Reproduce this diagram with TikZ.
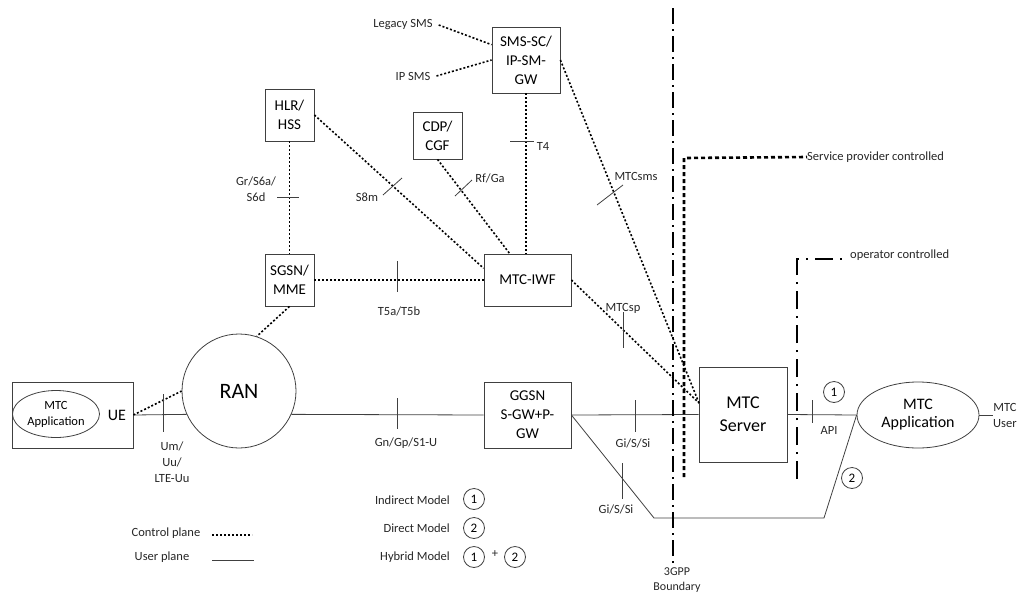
\documentclass[tikz,border=0pt]{standalone}
\usepackage{fontspec}
\setmainfont{Carlito}
\usetikzlibrary{shapes.geometric}
\tikzset{
  box/.style={draw=black!75,line width=0.8pt,inner sep=0pt,align=center,font=\fontsize{15}{19}\selectfont},
  lbl/.style={inner sep=0pt,align=center,text=black!85,font=\fontsize{12.5}{16}\selectfont},
  cp/.style={line width=1.6pt,dash pattern=on 2pt off 2pt},
  up/.style={draw=black!75,line width=0.8pt},
  bnd/.style={line width=2pt,dash pattern=on 16pt off 5pt on 2pt off 5pt},
  spc/.style={line width=2.6pt,dash pattern=on 4pt off 3pt},
  opc/.style={line width=2.8pt,dash pattern=on 18pt off 7pt on 2pt off 7pt},
  num/.style={circle,draw=black!75,line width=0.8pt,minimum size=21pt,inner sep=0pt,font=\fontsize{13}{13}\selectfont}
}
\begin{document}
\begin{tikzpicture}[x=1pt,y=-1pt]
    \useasboundingbox (0,0) rectangle (1021,595);
    \node[box,minimum width=121pt,minimum height=66pt] (ue) at (72.5,415) {};
    \node[box,ellipse,minimum width=87pt,minimum height=47pt,font=\fontsize{12.5}{16}\selectfont] (uapp) at (56,414) {MTC\\Application};
    \node[font=\fontsize{16}{16}\selectfont] (uetxt) at (117,415) {UE};
    \node[box,circle,minimum size=114pt,font=\fontsize{22}{22}\selectfont] (ran) at (239,391) {RAN};
    \node[box,minimum width=49pt,minimum height=52pt] (hlr) at (289.5,115) {HLR/\\HSS};
    \node[box,minimum width=49pt,minimum height=52pt] (sgsn) at (289.5,280) {SGSN/\\MME};
    \node[box,minimum width=49pt,minimum height=47pt] (cdp) at (437.5,135.5) {CDP/\\CGF};
    \node[box,minimum width=68pt,minimum height=66pt] (sms) at (526,60) {SMS-SC/\\IP-SM-\\GW};
    \node[box,minimum width=87pt,minimum height=52pt] (iwf) at (527.5,280) {MTC-IWF};
    \node[box,minimum width=87pt,minimum height=66pt] (ggsn) at (527.5,415) {GGSN\\S-GW+P-\\GW};
    \node[box,minimum width=88pt,minimum height=95pt,font=\fontsize{18}{23}\selectfont] (srv) at (743,414.5) {MTC\\Server};
    \node[box,ellipse,minimum width=122pt,minimum height=66pt,font=\fontsize{16}{18}\selectfont] (app) at (918,415) {MTC\\Application};
    \node[lbl,anchor=west] (usr) at (993,415) {MTC\\User};
    \node[lbl,inner sep=6pt] (legacy) at (403,25) {Legacy SMS};
    \node[lbl,inner sep=6pt] (ipsms) at (413,76) {IP SMS};
    \coordinate (srvin) at (699,403);
    \coordinate (d1) at (654,518);
    \coordinate (d2) at (824,518);
    % user plane
    \draw[up] (ue.east) -- (ran.204);
    \draw[up] (ran.336) -- (ggsn.west);
    \draw[up] (ggsn.east) -- (srv.west);
    \draw[up] (srv.east) -- (app.west);
    \draw[up] (app.east) -- (usr.west);
    \draw[up] (ggsn.east) -- (d1) -- (d2) -- (app.west);
    % control plane
    \draw[cp] (ue.east) -- (ran.180);
    \draw[cp] (sgsn.south) -- (ran.72);
    \draw[cp] (hlr.south) -- (sgsn.north);
    \draw[cp] (sgsn.east) -- (iwf.west);
    \draw[cp] (hlr.east) -- (iwf.165);
    \draw[cp] (cdp.south) -- (iwf.124);
    \draw[cp] (sms.south) -- (sms.south |- iwf.north);
    \draw[cp] (legacy.east) -- (sms.156);
    \draw[cp] (ipsms.east) -- (sms.west);
    \draw[cp] (sms.east) -- (srvin);
    \draw[cp] (iwf.east) -- (srvin);
    \foreach \a/\b/\c/\d in {163/394/163/432, 397/398/397/429, 635/400/635/432, 622/463/622/499,
        812/400/812/423, 397/261/397/292, 277/197/299/197, 510/141/534/141,
        383/195/402/178, 455/196/472/180, 597/205/623/185, 623/312/623/348}
      \draw[up] (\a,\b) -- (\c,\d);
    \node[lbl] (um) at (172,462) {Um/\\Uu/\\LTE-Uu};
    \node[lbl] (gn) at (406,443) {Gn/Gp/S1-U};
    \node[lbl] (gi1) at (633,443) {Gi/S/Si};
    \node[lbl] (gi2) at (616,509) {Gi/S/Si};
    \node[lbl] (api) at (829,430) {API};
    \node[lbl] (t5) at (399,311) {T5a/T5b};
    \node[lbl] (gr) at (256,189) {Gr/S6a/\\S6d};
    \node[lbl] (t4) at (543,146) {T4};
    \node[lbl] (s8m) at (367,197) {S8m};
    \node[lbl] (rf) at (490,178) {Rf/Ga};
    \node[lbl] (mtcsms) at (636,176) {MTCsms};
    \node[lbl] (mtcsp) at (623,308) {MTCsp};
    \node[num] (ind) at (834,392) {1};
    \node[num] (dir) at (852,478) {2};
    % boundaries
    \node[lbl,font=\fontsize{12}{15}\selectfont] (gpp) at (677,580) {3GPP\\Boundary};
    \draw[bnd] (673,8) -- (673,565);
    \node[lbl,anchor=west] (spl) at (807,157) {Service provider controlled};
    \draw[spc] (684,477) -- (684,158) -- (spl.west);
    \node[lbl,anchor=west] (opl) at (850,255) {operator controlled};
    \draw[opc] (797,479) -- (797,259) -- (843,259);
    % legend
    \node[lbl,anchor=east,font=\fontsize{12.5}{15}\selectfont] (lind) at (450,500) {Indirect Model};
    \node[lbl,anchor=east,font=\fontsize{12.5}{15}\selectfont] (ldir) at (450,528) {Direct Model};
    \node[lbl,anchor=east,font=\fontsize{12.5}{15}\selectfont] (lhyb) at (450,557) {Hybrid Model};
    \node[num] (n1) at (474,499) {1};
    \node[num] (n2) at (474,528) {2};
    \node[num] (n3) at (474,557) {1};
    \node[lbl] (plus) at (495,554) {+};
    \node[num] (n4) at (515,557) {2};
    \node[lbl] (lcp) at (166,533) {Control plane};
    \node[lbl] (lup) at (162,557) {User plane};
    \draw[cp] (212,535) -- (252,535);
    \draw[up] (212,560) -- (254,560);
\end{tikzpicture}
\end{document}
